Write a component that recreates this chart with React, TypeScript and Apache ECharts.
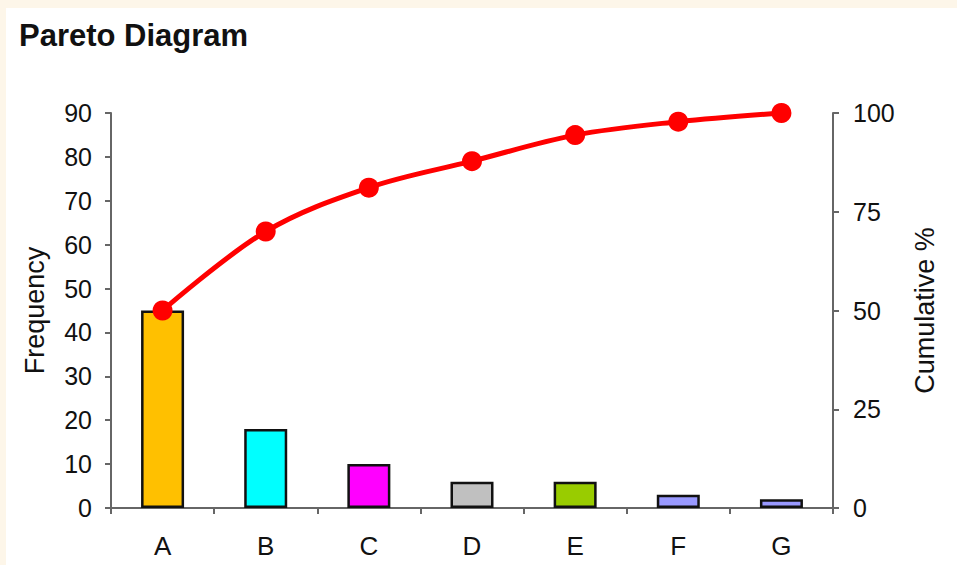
import React, { useEffect, useRef } from "react";
import * as echarts from "echarts";

const categories = ["A", "B", "C", "D", "E", "F", "G"];
const frequency = [45, 18, 10, 6, 6, 3, 2];
const cumulativePct = [50, 70, 81.1, 87.8, 94.4, 97.8, 100];
const barColors = ["#FFC000", "#00FFFF", "#FF00FF", "#C0C0C0", "#99CC00", "#9999FF", "#9999FF"];

const FONT = "'Liberation Sans', Arial, sans-serif";

export default function App() {
  const ref = useRef<HTMLDivElement>(null);
  useEffect(() => {
    if (!ref.current) return;
    const chart = echarts.init(ref.current, undefined, { renderer: "svg" });
    const axisLine = { show: true, lineStyle: { color: "#666666", width: 2 } };
    const axisTick = { show: true, length: 6, lineStyle: { color: "#666666", width: 2 } };
    chart.setOption({
      animation: false,
      backgroundColor: "#fdf6e9",
      textStyle: { fontFamily: FONT },
      title: {
        text: "Pareto Diagram",
        left: 14,
        top: 15,
        textStyle: { fontFamily: FONT, fontWeight: "bold", fontSize: 31, color: "#111" },
      },
      graphic: [
        {
          type: "rect",
          z: -10,
          silent: true,
          shape: { x: 6, y: 8, width: 951, height: 557 },
          style: { fill: "#ffffff" },
        },
      ],
      grid: { left: 111, right: 124, top: 113, bottom: 57 },
      xAxis: {
        type: "category",
        data: categories,
        boundaryGap: true,
        axisLine,
        axisTick: { ...axisTick, alignWithLabel: false },
        axisLabel: { color: "#111", fontSize: 26, margin: 25, fontFamily: FONT },
      },
      yAxis: [
        {
          type: "value",
          min: 0,
          max: 90,
          interval: 10,
          position: "left",
          name: "Frequency",
          nameLocation: "middle",
          nameRotate: 90,
          nameGap: 63,
          nameTextStyle: { color: "#111", fontSize: 27, fontFamily: FONT },
          axisLine,
          axisTick,
          splitLine: { show: false },
          axisLabel: { color: "#111", fontSize: 25, margin: 19, fontFamily: FONT },
        },
        {
          type: "value",
          min: 0,
          max: 100,
          interval: 25,
          position: "right",
          name: "Cumulative %",
          nameLocation: "middle",
          nameRotate: 90,
          nameGap: 78,
          nameTextStyle: { color: "#111", fontSize: 27, fontFamily: FONT },
          axisLine,
          axisTick,
          splitLine: { show: false },
          axisLabel: { color: "#111", fontSize: 25, margin: 20, fontFamily: FONT },
        },
      ],
      series: [
        {
          type: "bar",
          yAxisIndex: 0,
          barWidth: 43,
          data: frequency.map((v, i) => ({
            value: v,
            itemStyle: { color: barColors[i], borderColor: "#111", borderWidth: 2.5 },
          })),
          z: 2,
        },
        {
          type: "line",
          yAxisIndex: 1,
          data: cumulativePct,
          smooth: 0.35,
          symbol: "circle",
          symbolSize: 20,
          lineStyle: { color: "#FF0000", width: 5 },
          itemStyle: { color: "#FF0000" },
          z: 3,
        },
      ],
    });
    return () => chart.dispose();
  }, []);
  return (
    <div
      ref={ref}
      style={{ position: "fixed", left: 0, top: 0, width: 957, height: 565 }}
    />
  );
}
